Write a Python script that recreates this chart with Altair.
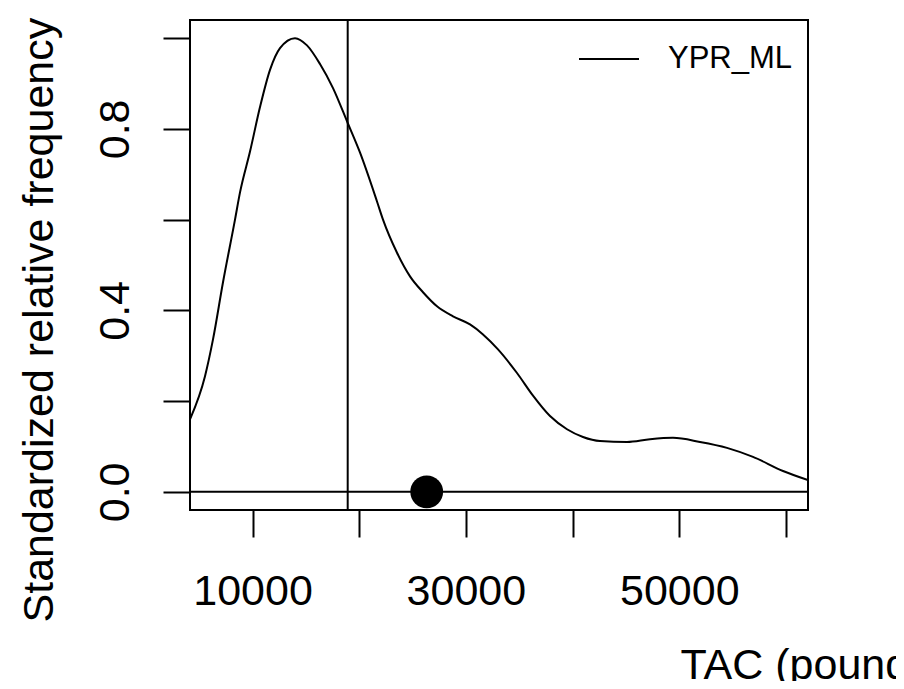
import json
import altair as alt
import pandas as pd

# ---- data ----
tac = [4142, 5548, 6298, 7235, 8360, 8829, 9766, 10703, 11640, 12577, 13983,
       15108, 16326, 17545, 18922, 20070, 21668, 22231, 23543, 24761, 25979,
       27291, 28791, 30384, 31603, 33009, 34789, 36289, 37882, 39475, 40975,
       42568, 45098, 47254, 49409, 51940, 54470, 56907, 59719, 62062]
freq = [0.160, 0.255, 0.336, 0.462, 0.600, 0.660, 0.750, 0.848, 0.930, 0.978, 1.000,
        0.984, 0.943, 0.890, 0.813, 0.748, 0.640, 0.600, 0.527, 0.475, 0.440,
        0.409, 0.387, 0.369, 0.347, 0.314, 0.262, 0.212, 0.167, 0.138, 0.121,
        0.112, 0.110, 0.116, 0.119, 0.110, 0.097, 0.077, 0.046, 0.026]
series = ["YPR_ML"]
vline_tac = [18922]
point_tac = [26326]
point_freq = [0.0]
hline_freq = [0.0]
x_domain = [4142, 62062]
y_domain = [-0.04, 1.04]
x_ticks = [10000, 20000, 30000, 40000, 50000, 60000]
x_labeled = [10000, 30000, 50000]
y_ticks = [0.0, 0.2, 0.4, 0.6, 0.8, 1.0]
y_labeled = [0, 0.4, 0.8]

FONT = "Liberation Sans"

curve = pd.DataFrame({"tac": tac, "freq": freq, "series": series[0]})
vline = pd.DataFrame({"tac": vline_tac})
hline = pd.DataFrame({"freq": hline_freq})
pt = pd.DataFrame({"tac": point_tac, "freq": point_freq})

x_scale = alt.Scale(domain=x_domain, nice=False, zero=False)
y_scale = alt.Scale(domain=y_domain, nice=False, zero=False)

x_axis = alt.Axis(
    values=x_ticks, title="TAC (pounds)", domain=False, grid=False,
    tickSize=27, tickWidth=2, tickColor="black",
    labelExpr="indexof(" + json.dumps(x_labeled) + ", datum.value) >= 0 ? format(datum.value, 'd') : ''",
    labelFontSize=43, labelFont=FONT, labelColor="black", labelPadding=33,
    labelFlush=False, labelOverlap=False,
    titleFontSize=43, titleFont=FONT, titleFontWeight="normal", titleColor="black",
    titleAlign="left", titleBaseline="alphabetic", titleX=490, titleY=168,
)
y_axis = alt.Axis(
    values=y_ticks, title="Standardized relative frequency", domain=False, grid=False,
    tickSize=27, tickWidth=2, tickColor="black",
    labelExpr="indexof(" + json.dumps(y_labeled) + ", datum.value) >= 0 ? format(datum.value, '.1f') : ''",
    labelFontSize=43, labelFont=FONT, labelColor="black", labelPadding=35,
    labelAngle=270, labelAlign="center", labelBaseline="alphabetic",
    labelFlush=False, labelOverlap=False,
    titleFontSize=43, titleFont=FONT, titleFontWeight="normal", titleColor="black",
    titleAngle=270, titleAlign="left", titleBaseline="alphabetic", titleX=-138, titleY=602,
)

line = alt.Chart(curve).mark_line(strokeWidth=2, clip=True, interpolate="monotone").encode(
    x=alt.X("tac:Q", scale=x_scale, axis=x_axis),
    y=alt.Y("freq:Q", scale=y_scale, axis=y_axis),
    color=alt.Color(
        "series:N",
        scale=alt.Scale(domain=series, range=["black"]),
        legend=alt.Legend(
            title=None, orient="none", legendX=388, legendY=8,
            symbolType="stroke", symbolSize=3600, symbolStrokeWidth=2,
            labelFontSize=31, labelFont=FONT, labelColor="black", labelOffset=28,
            padding=0,
        ),
    ),
)

vrule = alt.Chart(vline).mark_rule(color="black", strokeWidth=2).encode(
    x=alt.X("tac:Q", scale=x_scale)
)
hrule = alt.Chart(hline).mark_rule(color="black", strokeWidth=2).encode(
    y=alt.Y("freq:Q", scale=y_scale)
)
dot = alt.Chart(pt).mark_circle(size=1075, color="black", opacity=1).encode(
    x=alt.X("tac:Q", scale=x_scale),
    y=alt.Y("freq:Q", scale=y_scale),
)

chart = alt.layer(line, vrule, hrule, dot).properties(
    width=618, height=490,
    padding={"left": 182, "top": 12, "right": 88, "bottom": 171},
    autosize=alt.AutoSizeParams(type="none"),
    background="white",
).configure_view(stroke="black", strokeWidth=2)

chart.save("out.html", embed_options={"renderer": "svg", "actions": False})
